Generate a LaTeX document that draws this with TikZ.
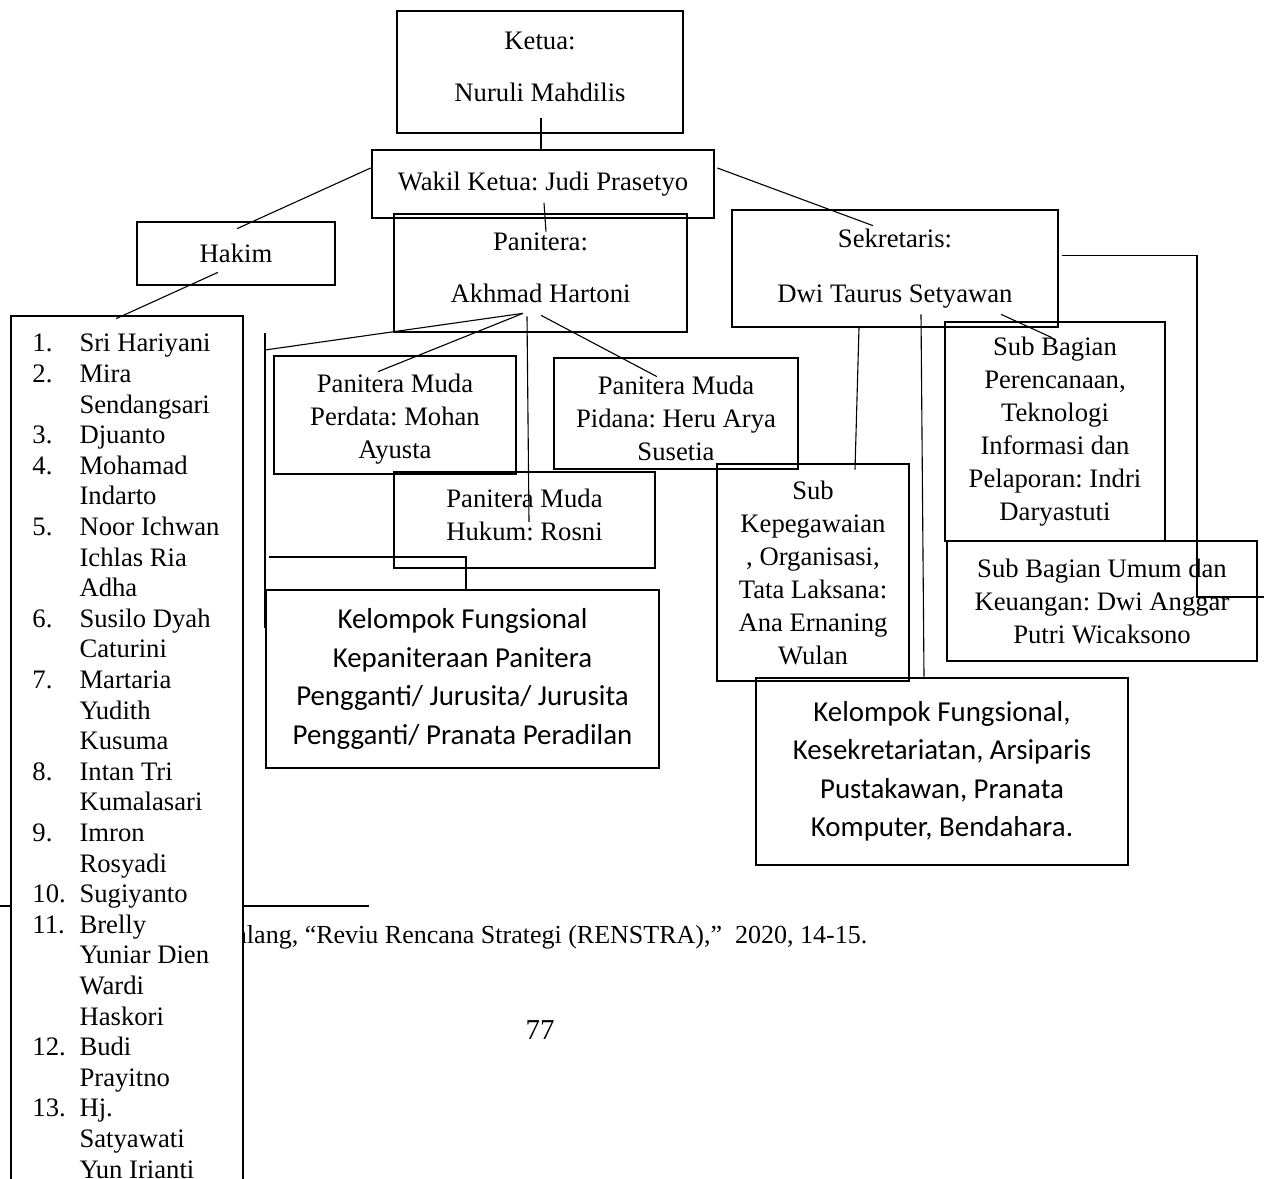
\documentclass[tikz,border=0pt]{standalone}
\usepackage{fontspec}
\setmainfont{Liberation Serif}
\newfontfamily\kalibri{Carlito}
\usepackage{tikz}
\usetikzlibrary{calc}
\frenchspacing
\newcommand{\naik}[1]{\rule[-#1]{0pt}{#1}}
\newcommand{\turun}[1]{\rule{0pt}{#1}}

\begin{document}
\begin{tikzpicture}[x=0.45pt,y=-0.45pt,
    kotak/.style={draw,line width=1.2pt,align=center,inner sep=0pt,font=\fontsize{12}{14.85}\selectfont},
    kotaklebar/.style={kotak,font=\fontsize{12}{23.4}\selectfont},
    kotaksans/.style={kotak,font=\kalibri\fontsize{13}{17.3}\selectfont},
    garis/.style={line width=0.5pt}]
      \useasboundingbox (0,0) rectangle (1264,1179);
      \clip (0,0) rectangle (1264,1179);
      \draw[line width=0.6pt] (0,906) -- (369,906);
      \node[anchor=base west,inner sep=0pt,font=\fontsize{11.7}{13}\selectfont] (catatan) at (235,943) {alang, “Reviu Rencana Strategi (RENSTRA),”\ \ 2020, 14-15.};
      \node[font=\fontsize{13}{15}\selectfont] (halaman) at (540,1030) {77};
      \node[kotaklebar,minimum width=128.7pt,minimum height=54.9pt] (ketua) at (540,72) {Ketua:\\Nuruli Mahdilis\naik{5pt}};
      \node[kotak,minimum width=153.9pt,minimum height=30.6pt] (wakil) at (543,184) {Wakil Ketua: Judi Prasetyo};
      \node[kotak,minimum width=89.1pt,minimum height=28.35pt] (hakim) at (236,253.5) {Hakim};
      \node[kotaklebar,minimum width=131.85pt,minimum height=53.1pt] (panitera) at (540.5,273) {Panitera:\\Akhmad Hartoni\naik{4.5pt}};
      \node[kotak,font=\fontsize{12}{24.75}\selectfont,minimum width=146.7pt,minimum height=52.65pt] (sekretaris) at (895,268.5) {Sekretaris:\\Dwi Taurus Setyawan};
      \node[draw,line width=1.2pt,fill=white,minimum width=104.4pt,minimum height=393.3pt,inner sep=0pt] (daftar) at (127,753) {};
      \node[anchor=north west,inner sep=0pt,font=\fontsize{12}{13.77}\selectfont] (nama) at (32,330) {%
        \begin{tabular}{@{}p{21.2pt}@{}l@{}}
          1. & Sri Hariyani\\
          2. & Mira\\
             & Sendangsari\\
          3. & Djuanto\\
          4. & Mohamad\\
             & Indarto\\
          5. & Noor Ichwan\\
             & Ichlas Ria\\
             & Adha\\
          6. & Susilo Dyah\\
             & Caturini\\
          7. & Martaria\\
             & Yudith\\
             & Kusuma\\
          8. & Intan Tri\\
             & Kumalasari\\
          9. & Imron\\
             & Rosyadi\\
          10. & Sugiyanto\\
          11. & Brelly\\
             & Yuniar Dien\\
             & Wardi\\
             & Haskori\\
          12. & Budi\\
             & Prayitno\\
          13. & Hj.\\
             & Satyawati\\
             & Yun Irianti
        \end{tabular}};
      \node[kotak,minimum width=108.9pt,minimum height=53.1pt] (pmperdata) at (395,415) {\turun{11.8pt}Panitera Muda\\Perdata: Mohan\\Ayusta};
      \node[kotak,minimum width=109.8pt,minimum height=49.95pt] (pmpidana) at (676,413.5) {\turun{12.7pt}Panitera Muda\\Pidana: Heru Arya\\Susetia};
      \node[kotak,minimum width=117.45pt,minimum height=43.2pt] (pmhukum) at (524.5,520) {Panitera Muda\\Hukum: Rosni\naik{4.5pt}};
      \node[kotaksans,minimum width=176.85pt,minimum height=80.1pt] (kelkep) at (462.5,679) {Kelompok Fungsional\\Kepaniteraan Panitera\\Pengganti/ Jurusita/ Jurusita\\Pengganti/ Pranata Peradilan};
      \node[kotak,minimum width=86.4pt,minimum height=97.65pt] (subkepeg) at (813,572.5) {Sub\\Kepegawaian\\, Organisasi,\\Tata Laksana:\\Ana Ernaning\\Wulan};
      \node[kotaksans,minimum width=167.4pt,minimum height=84.15pt] (kelsek) at (942,771.5) {Kelompok Fungsional,\\Kesekretariatan, Arsiparis\\Pustakawan, Pranata\\Komputer, Bendahara.};
      \node[kotak,minimum width=99pt,minimum height=98.55pt] (subren) at (1055,431.5) {Sub Bagian\\Perencanaan,\\Teknologi\\Informasi dan\\Pelaporan: Indri\\Daryastuti};
      \node[kotak,minimum width=139.5pt,minimum height=54pt] (subumum) at (1102,601) {Sub Bagian Umum dan\\Keuangan: Dwi Anggar\\Putri Wicaksono};
      \coordinate (kiri) at (265,350);
      \coordinate (kiriatas) at (265,333);
      \coordinate (kiribawah) at (265,628);
      \coordinate (kiritengah) at (269,557);
      \coordinate (siku) at (1197,597);
      \coordinate (kanan) at (1264,597);
      \draw[garis] ($(ketua.south)+(1,-16)$) -- ($(wakil.north)+(-2,0)$);
      \draw[garis] ($(wakil.west)+(0,-16)$) -- ($(hakim.north)+(1,8)$);
      \draw[garis] ($(hakim.south)+(-18,-14)$) -- ($(daftar.north)+(-11,4)$);
      \draw[garis] ($(wakil.center)+(1,19)$) -- ($(panitera.north)+(5.5,19)$);
      \draw[garis] ($(wakil.east)+(2,-16)$) -- ($(sekretaris.north)+(-22,17)$);
      \draw[garis] ($(panitera.south)+(-17.5,-20)$) -- ($(pmperdata.north)+(-17,17)$);
      \draw[garis] ($(panitera.south)+(-13.5,-17)$) -- ($(pmhukum.center)+(4.5,2)$);
      \draw[garis] ($(panitera.south)+(0.5,-18)$) -- ($(pmpidana.north)+(-19,20)$);
      \draw[garis] ($(panitera.south)+(-17.5,-20)$) -- (kiri);
      \draw[garis] (kiriatas) -- (kiribawah);
      \draw[garis] (kiritengah) -| ($(kelkep.north)+(3.5,0)$);
      \draw[garis] ($(sekretaris.south)+(-36,-1)$) -- ($(subkepeg.north)+(42,7)$);
      \draw[garis] ($(sekretaris.south)+(26,-14)$) -- ($(kelsek.north)+(-18,0)$);
      \draw[garis] ($(sekretaris.south)+(106,-14)$) -- ($(subren.north)+(-3,17)$);
      \draw[garis] ($(sekretaris.east)+(3,-13)$) -| (siku) -- (kanan);
\end{tikzpicture}
\end{document}
